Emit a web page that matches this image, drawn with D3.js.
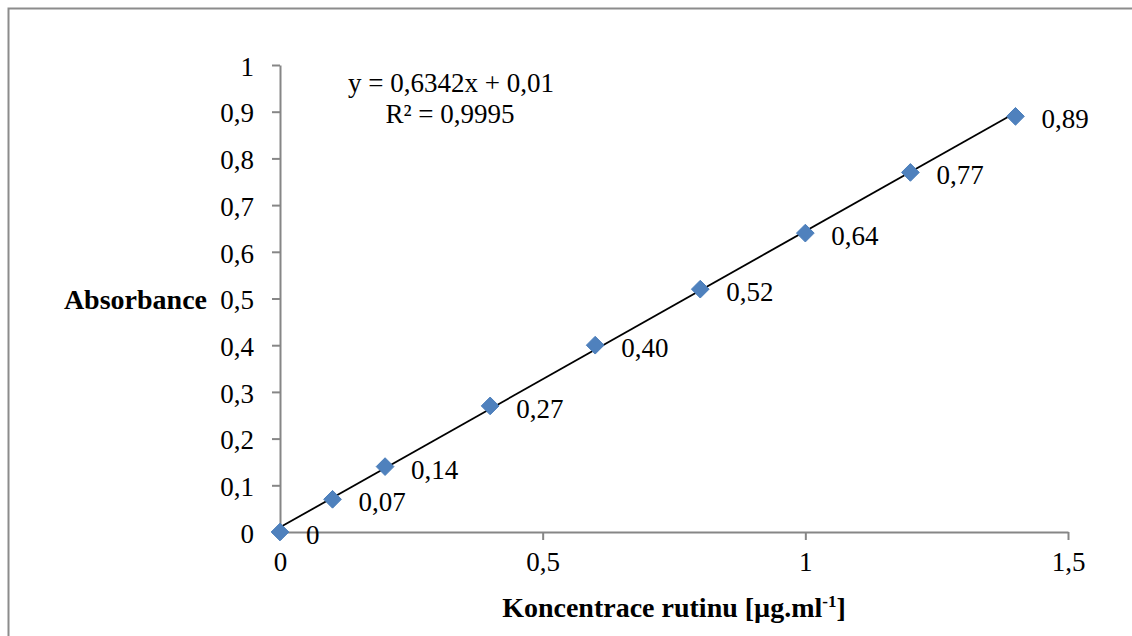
<!DOCTYPE html>
<meta charset="utf-8">
<style>
  body { margin: 0; background: #fff; }
  text { font-family: "Liberation Serif", "Times New Roman", serif; fill: #000; }
  .axis path, .axis line { stroke: #868686; stroke-width: 2; }
  .title { font-weight: bold; font-size: 28px; }
</style>
<body>
<script src="https://d3js.org/d3.v7.min.js"></script>
<script>
// data
var conc = [0, 0.1, 0.2, 0.4, 0.6, 0.8, 1.0, 1.2, 1.4];
var absorb = [0, 0.07, 0.14, 0.27, 0.40, 0.52, 0.64, 0.77, 0.89];
var labels = ["0", "0,07", "0,14", "0,27", "0,40", "0,52", "0,64", "0,77", "0,89"];
var xTicks = [0, 0.5, 1, 1.5];
var yTicks = [0, 0.1, 0.2, 0.3, 0.4, 0.5, 0.6, 0.7, 0.8, 0.9, 1];
var slope = 0.6342, intercept = 0.01;

var width = 1132, height = 636;
var fmt = function(d) { return String(d).replace(".", ","); };

var svg = d3.select("body").append("svg")
    .attr("width", width)
    .attr("height", height);

// chart border (right/bottom edges fall outside the picture)
svg.append("rect")
    .attr("x", 8.5).attr("y", 8.5)
    .attr("width", 1140).attr("height", 650)
    .style("fill", "none")
    .style("stroke", "#8c8c8c")
    .style("stroke-width", 2);

var x = d3.scaleLinear().domain([0, 1.5]).range([280, 1068]);
var y = d3.scaleLinear().domain([0, 1]).range([532, 65]);

var xAxis = svg.append("g")
    .attr("class", "axis")
    .attr("transform", "translate(0,532)")
    .call(d3.axisBottom(x).tickValues(xTicks).tickFormat(fmt).tickSize(8).tickSizeOuter(0).tickPadding(12));
xAxis.attr("font-size", 27).attr("font-family", null);

var yAxis = svg.append("g")
    .attr("class", "axis")
    .attr("transform", "translate(280,0)")
    .call(d3.axisLeft(y).tickValues(yTicks).tickFormat(fmt).tickSize(8).tickSizeOuter(0).tickPadding(18));
yAxis.attr("font-size", 27).attr("font-family", null);
yAxis.selectAll("text").attr("dy", "0.38em");

// trendline
svg.append("line")
    .attr("x1", x(0)).attr("y1", y(intercept))
    .attr("x2", x(d3.max(conc))).attr("y2", y(slope * d3.max(conc) + intercept))
    .style("stroke", "#000")
    .style("stroke-width", 1.8);

// markers
svg.selectAll(".pt")
    .data(conc)
  .enter().append("path")
    .attr("class", "pt")
    .attr("d", d3.symbol().type(d3.symbolDiamond2).size(200))
    .attr("transform", function(d, i) { return "translate(" + x(d) + "," + y(absorb[i]) + ")"; })
    .style("fill", "#4f81bd")
    .style("stroke", "#4a7ebb")
    .style("stroke-width", 1);

// data labels
svg.selectAll(".lbl")
    .data(conc)
  .enter().append("text")
    .attr("class", "lbl")
    .attr("x", function(d) { return x(d) + 26; })
    .attr("y", function(d, i) { return y(absorb[i]) + 12; })
    .style("font-size", "27px")
    .text(function(d, i) { return labels[i]; });

// equation
svg.append("text")
    .attr("x", 451).attr("y", 92)
    .attr("text-anchor", "middle")
    .style("font-size", "27px")
    .text("y = 0,6342x + 0,01");
svg.append("text")
    .attr("x", 450).attr("y", 123)
    .attr("text-anchor", "middle")
    .style("font-size", "27px")
    .text("R² = 0,9995");

// axis titles
svg.append("text")
    .attr("class", "title")
    .attr("x", 207).attr("y", 309)
    .attr("text-anchor", "end")
    .text("Absorbance");

var xt = svg.append("text")
    .attr("class", "title")
    .attr("x", 674).attr("y", 617)
    .attr("text-anchor", "middle");
xt.append("tspan").text("Koncentrace rutinu [µg.ml");
xt.append("tspan").attr("dy", -10).style("font-size", "17px").text("-1");
xt.append("tspan").attr("dy", 10).text("]");
</script>
</body>
</html>
